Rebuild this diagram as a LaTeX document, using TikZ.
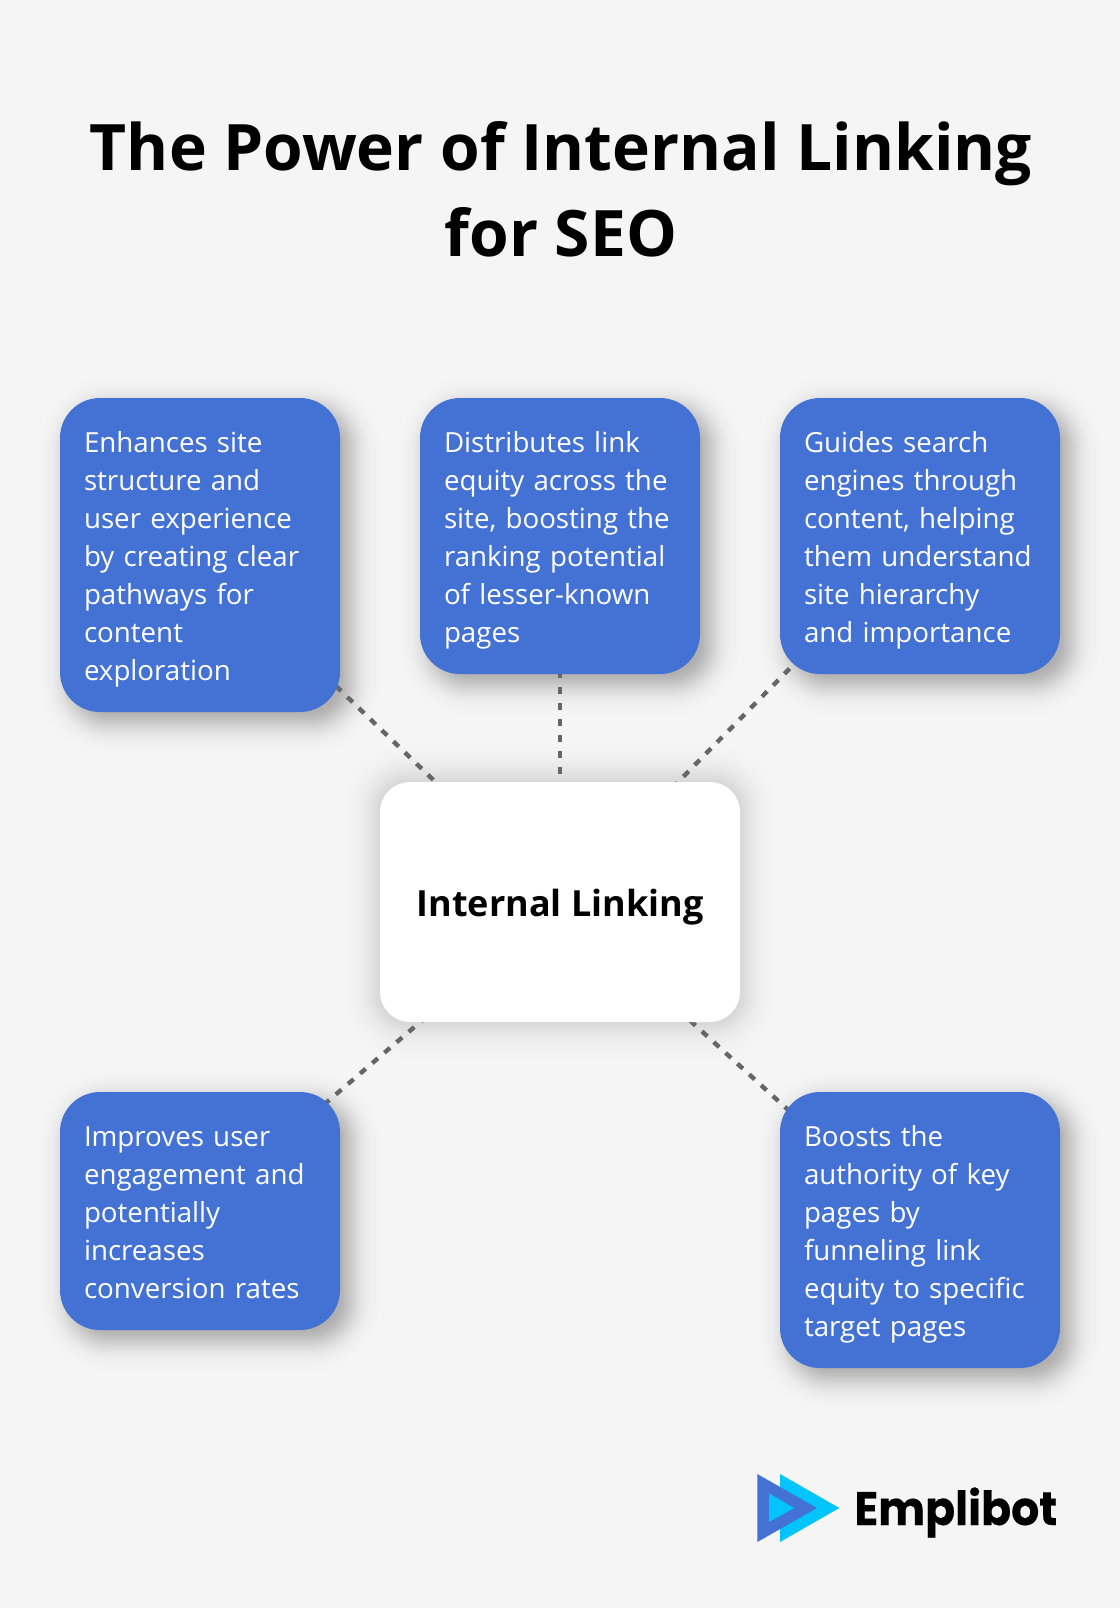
\documentclass[tikz,border=0pt]{standalone}
\usepackage{fontspec}
\setmainfont{Open Sans}
\newfontfamily\logofont{Poppins}[FakeStretch=0.94, BoldFeatures={FakeBold=0.3}]
\usetikzlibrary{positioning, calc}

\definecolor{pagebg}{HTML}{F5F5F5}
\definecolor{boxblue}{HTML}{4472D4}
\definecolor{logocyan}{HTML}{00C4FB}
\definecolor{linkgray}{HTML}{666666}

\pgfdeclarelayer{shadowlayer}
\pgfdeclarelayer{linelayer}
\pgfsetlayers{shadowlayer,linelayer,main}

\tikzset{
    bluebox/.style={fill=boxblue, text=white, rounded corners=20pt, minimum width=140pt,
        text width=116pt, inner xsep=12pt, inner ysep=0pt, align=left,
        font=\fontsize{13.85}{18.95}\selectfont,
        execute at begin node=\rule{0pt}{17.3pt}, execute at end node=\strut},
    hubbox/.style={fill=white, rounded corners=15pt, minimum width=180pt, minimum height=120pt,
        text height=15pt, text depth=0.3pt, font=\fontsize{18}{24}\selectfont\bfseries},
    linkline/.style={draw=linkgray, line width=2.2pt, dash pattern=on 3.7pt off 4.3pt},
}

% 影: ノード名, ずれ x, ずれ y, 半径, 濃さ, シグマ
\newcommand{\softshadow}[6]{
    \foreach \k in {-15,...,15} {
        \pgfmathsetmacro{\ee}{\k*#6/6}
        \pgfmathsetmacro{\rr}{max(2,#4+\ee/2)}
        \pgfmathsetmacro{\oo}{#5*0.0665*exp(-\k*\k/72)}
        \fill[black, opacity=\oo, rounded corners=\rr pt]
            ($(#1.north west)+(#2-\ee,#3-\ee)$) rectangle ($(#1.south east)+(#2+\ee,#3+\ee)$);
    }
}

\begin{document}
\begin{tikzpicture}[x=0.5pt, y=-0.5pt]
    \useasboundingbox (0,0) rectangle (1120,1608);

    % タイトル
    \node[align=center, font=\fontsize{32.03}{43}\selectfont\bfseries] (title) at (561,189)
        {The Power of Internal Linking\\for SEO};

    % 中央
    \node[hubbox] (hub) at (560,902) {Internal Linking};

    % 周りの箱
    \node[bluebox, minimum height=157pt] (structure) at (200,555)
        {Enhances site\\structure and\\user experience\\by creating clear\\pathways for\\content\\exploration};
    \node[bluebox, minimum height=138pt] (equity) at (560,536)
        {Distributes link\\equity across the\\site, boosting the\\ranking potential\\of lesser-known\\pages};
    \node[bluebox, minimum height=138pt] (guide) at (920,536)
        {Guides search\\engines through\\content, helping\\them understand\\site hierarchy\\and importance};
    \node[bluebox, minimum height=119pt] (engage) at (200,1211)
        {Improves user\\engagement and\\potentially\\increases\\conversion rates};
    \node[bluebox, minimum height=138pt] (authority) at (920,1230)
        {Boosts the\\authority of key\\pages by\\funneling link\\equity to specific\\target pages};

    % 点線
    \begin{pgfonlayer}{linelayer}
        \foreach \target in {structure,equity,guide,engage,authority} {
            \draw[linkline] (hub.center) -- (\target.center);
        }
    \end{pgfonlayer}

    % 背景と影
    \begin{pgfonlayer}{shadowlayer}
        \fill[pagebg] (0,0) rectangle (1120,1608);
        \softshadow{hub}{0}{0}{15}{0.24}{18}
        \foreach \target in {structure,equity,guide,engage,authority} {
            \softshadow{\target}{10}{10}{20}{0.35}{14}
        }
    \end{pgfonlayer}

    % ロゴ
    \fill[logocyan] (780,1474) -- (839.3,1508) -- (780,1542) -- cycle;
    \fill[boxblue] (757.3,1474) -- (817,1508) -- (757.3,1542) -- cycle;
    \fill[logocyan] (769,1493.3) -- (794,1508) -- (769,1522) -- cycle;
    \node[font=\fontsize{23.5}{28}\logofont\bfseries, anchor=base west, inner sep=0pt] (logotext) at (854,1525) {Emplibot};
\end{tikzpicture}
\end{document}
